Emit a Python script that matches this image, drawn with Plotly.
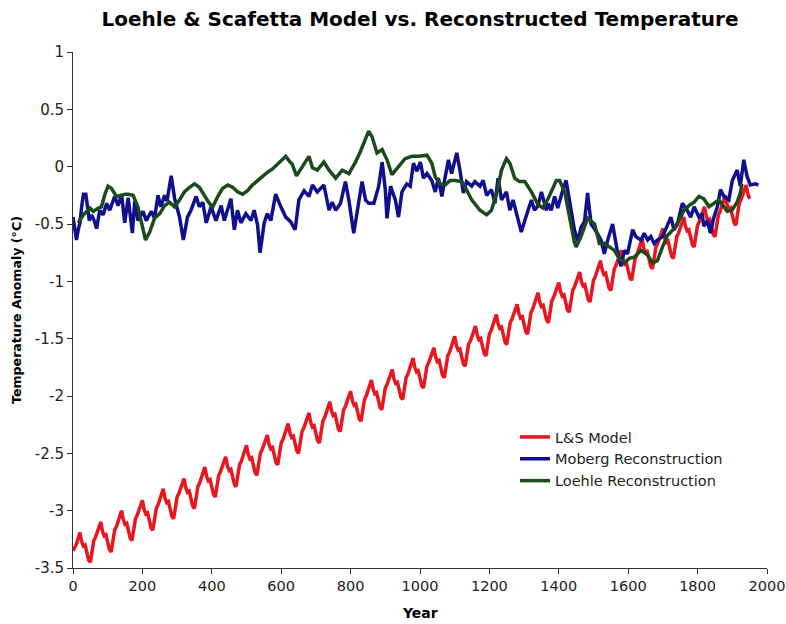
import plotly.graph_objects as go

# ---------------- data ----------------
model_years = list(range(0, 1951, 5))
model_vals = [
    -3.35, -3.32, -3.29, -3.24,
    -3.19, -3.27, -3.31, -3.30, -3.36, -3.43, -3.45, -3.36, -3.26, -3.23, -3.19, -3.14,
    -3.10, -3.18, -3.22, -3.21, -3.27, -3.34, -3.36, -3.27, -3.17, -3.14, -3.10, -3.05,
    -3.00, -3.08, -3.12, -3.11, -3.17, -3.24, -3.26, -3.17, -3.07, -3.04, -3.00, -2.95,
    -2.91, -2.99, -3.03, -3.02, -3.08, -3.15, -3.17, -3.08, -2.98, -2.95, -2.91, -2.86,
    -2.81, -2.89, -2.93, -2.92, -2.98, -3.05, -3.07, -2.98, -2.88, -2.85, -2.81, -2.76,
    -2.72, -2.80, -2.84, -2.83, -2.89, -2.96, -2.98, -2.89, -2.79, -2.76, -2.72, -2.67,
    -2.62, -2.70, -2.74, -2.73, -2.79, -2.86, -2.88, -2.79, -2.69, -2.66, -2.62, -2.57,
    -2.53, -2.61, -2.65, -2.64, -2.70, -2.77, -2.79, -2.70, -2.60, -2.57, -2.53, -2.48,
    -2.43, -2.51, -2.55, -2.54, -2.60, -2.67, -2.69, -2.60, -2.50, -2.47, -2.43, -2.38,
    -2.34, -2.42, -2.46, -2.45, -2.51, -2.58, -2.60, -2.51, -2.41, -2.38, -2.34, -2.29,
    -2.24, -2.32, -2.36, -2.35, -2.41, -2.48, -2.50, -2.41, -2.31, -2.28, -2.24, -2.19,
    -2.15, -2.23, -2.27, -2.26, -2.32, -2.39, -2.41, -2.32, -2.22, -2.19, -2.15, -2.10,
    -2.05, -2.13, -2.17, -2.16, -2.22, -2.29, -2.31, -2.22, -2.12, -2.09, -2.05, -2.00,
    -1.96, -2.04, -2.08, -2.07, -2.13, -2.20, -2.22, -2.13, -2.03, -2.00, -1.96, -1.91,
    -1.86, -1.94, -1.98, -1.97, -2.03, -2.10, -2.12, -2.03, -1.93, -1.90, -1.86, -1.81,
    -1.77, -1.85, -1.89, -1.88, -1.94, -2.01, -2.03, -1.94, -1.84, -1.81, -1.77, -1.72,
    -1.67, -1.75, -1.79, -1.78, -1.84, -1.91, -1.93, -1.84, -1.74, -1.71, -1.67, -1.62,
    -1.58, -1.66, -1.70, -1.69, -1.75, -1.82, -1.84, -1.75, -1.65, -1.62, -1.58, -1.53,
    -1.48, -1.56, -1.60, -1.59, -1.65, -1.72, -1.74, -1.65, -1.55, -1.52, -1.48, -1.43,
    -1.39, -1.47, -1.51, -1.50, -1.56, -1.63, -1.65, -1.56, -1.46, -1.43, -1.39, -1.34,
    -1.29, -1.37, -1.41, -1.40, -1.46, -1.53, -1.55, -1.46, -1.36, -1.33, -1.29, -1.24,
    -1.20, -1.28, -1.32, -1.31, -1.37, -1.44, -1.46, -1.37, -1.27, -1.24, -1.20, -1.15,
    -1.10, -1.18, -1.22, -1.21, -1.27, -1.34, -1.36, -1.27, -1.17, -1.14, -1.10, -1.05,
    -1.01, -1.09, -1.13, -1.12, -1.18, -1.25, -1.27, -1.18, -1.08, -1.05, -1.01, -0.96,
    -0.92, -1.00, -1.04, -1.03, -1.09, -1.16, -1.18, -1.09, -0.99, -0.96, -0.92, -0.87,
    -0.82, -0.90, -0.94, -0.93, -0.99, -1.06, -1.08, -0.99, -0.89, -0.86, -0.82, -0.77,
    -0.73, -0.81, -0.85, -0.84, -0.90, -0.97, -0.99, -0.90, -0.80, -0.77, -0.73, -0.68,
    -0.63, -0.71, -0.75, -0.74, -0.80, -0.87, -0.89, -0.80, -0.70, -0.67, -0.63, -0.58,
    -0.54, -0.62, -0.66, -0.65, -0.71, -0.78, -0.80, -0.71, -0.61, -0.58, -0.54, -0.49,
    -0.44, -0.52, -0.56, -0.55, -0.61, -0.68, -0.70, -0.61, -0.51, -0.48, -0.44, -0.39,
    -0.35, -0.43, -0.47, -0.46, -0.52, -0.59, -0.61, -0.52, -0.42, -0.39, -0.35, -0.30,
    -0.25, -0.33, -0.37, -0.36, -0.42, -0.49, -0.51, -0.42, -0.32, -0.29, -0.25, -0.20,
    -0.16, -0.24, -0.28,
]

moberg_years = [
    0, 5, 10, 15, 20, 25, 30, 37, 47, 54, 61, 68, 77, 87, 97, 106, 120, 130, 140, 149,
    159, 171, 178, 187, 202, 211, 226, 235, 245, 253, 264, 271, 283, 293, 307, 318, 330, 340, 355, 364,
    374, 384, 398, 412, 427, 436, 455, 465, 474, 484, 498, 513, 522, 532, 539, 551, 560, 570, 584, 599,
    613, 627, 640, 651, 666, 680, 690, 704, 723, 738, 747, 757, 771, 785, 795, 809, 819, 833, 843, 852,
    867, 881, 891, 900, 905, 915, 929, 938, 948, 962, 972, 981, 991, 1001, 1010, 1020, 1034, 1044, 1053, 1063,
    1072, 1082, 1091, 1106, 1115, 1125, 1134, 1149, 1158, 1173, 1182, 1192, 1206, 1216, 1225, 1235, 1249, 1259, 1268, 1278,
    1292, 1302, 1311, 1321, 1330, 1340, 1350, 1364, 1369, 1378, 1388, 1397, 1412, 1421, 1431, 1445, 1455, 1464, 1474, 1483,
    1493, 1507, 1522, 1531, 1541, 1555, 1570, 1579, 1589, 1598, 1613, 1622, 1637, 1646, 1656, 1665, 1675, 1684, 1699, 1713,
    1723, 1732, 1742, 1756, 1770, 1780, 1790, 1804, 1813, 1818, 1828, 1837, 1847, 1857, 1866, 1876, 1890, 1900, 1914, 1923,
    1933, 1943, 1952, 1967, 1975,
]
moberg_vals = [
    -0.44, -0.56, -0.64, -0.55, -0.49, -0.35, -0.24, -0.24, -0.47, -0.42, -0.47, -0.54, -0.38, -0.42, -0.32, -0.38, -0.26, -0.34, -0.24, -0.49,
    -0.27, -0.58, -0.30, -0.47, -0.39, -0.47, -0.39, -0.45, -0.25, -0.35, -0.25, -0.30, -0.08, -0.28, -0.44, -0.64, -0.44, -0.38, -0.26, -0.35,
    -0.31, -0.49, -0.35, -0.47, -0.34, -0.47, -0.28, -0.55, -0.38, -0.49, -0.41, -0.47, -0.38, -0.51, -0.75, -0.49, -0.41, -0.47, -0.24, -0.35,
    -0.44, -0.48, -0.55, -0.29, -0.21, -0.26, -0.16, -0.22, -0.16, -0.38, -0.31, -0.38, -0.32, -0.13, -0.29, -0.58, -0.38, -0.13, -0.29, -0.32,
    -0.32, -0.17, 0.04, -0.20, -0.45, -0.17, -0.29, -0.44, -0.22, -0.15, -0.17, 0.03, -0.04, 0.04, -0.10, -0.06, -0.12, -0.22, -0.10, -0.26,
    -0.10, 0.06, -0.06, 0.12, -0.03, -0.23, -0.13, -0.17, -0.13, -0.17, -0.12, -0.25, -0.20, -0.32, -0.10, -0.29, -0.22, -0.38, -0.29, -0.41,
    -0.57, -0.47, -0.38, -0.29, -0.38, -0.34, -0.22, -0.38, -0.32, -0.38, -0.26, -0.36, -0.20, -0.12, -0.30, -0.55, -0.65, -0.53, -0.48, -0.23,
    -0.50, -0.56, -0.64, -0.76, -0.64, -0.50, -0.76, -0.87, -0.73, -0.76, -0.55, -0.61, -0.64, -0.58, -0.64, -0.61, -0.67, -0.64, -0.61, -0.50,
    -0.44, -0.55, -0.50, -0.32, -0.38, -0.44, -0.35, -0.44, -0.41, -0.52, -0.47, -0.58, -0.44, -0.35, -0.20, -0.26, -0.29, -0.12, -0.03, -0.17,
    0.06, -0.09, -0.16, -0.15, -0.16,
]

loehle_years = [
    15, 30, 49, 58, 73, 82, 92, 101, 111, 125, 140, 149, 159, 173, 187, 197, 209, 221, 235, 250,
    264, 278, 293, 307, 321, 336, 350, 364, 379, 393, 403, 417, 431, 446, 460, 474, 489, 503, 517, 532,
    546, 560, 575, 589, 604, 613, 623, 632, 644, 656, 666, 680, 690, 704, 723, 738, 757, 776, 795, 814,
    828, 843, 852, 862, 876, 891, 905, 919, 938, 957, 977, 996, 1020, 1034, 1044, 1058, 1072, 1087, 1101, 1120,
    1134, 1149, 1173, 1192, 1206, 1221, 1235, 1249, 1259, 1273, 1287, 1302, 1321, 1340, 1354, 1369, 1393, 1402, 1417, 1431,
    1445, 1450, 1464, 1483, 1503, 1517, 1531, 1546, 1560, 1574, 1589, 1603, 1617, 1637, 1656, 1670, 1684, 1699, 1713, 1732,
    1746, 1761, 1775, 1790, 1804, 1818, 1833, 1847, 1861, 1876, 1885, 1899, 1914, 1923, 1928,
]
loehle_vals = [
    -0.49, -0.42, -0.36, -0.39, -0.36, -0.35, -0.24, -0.17, -0.19, -0.26, -0.25, -0.24, -0.24, -0.25, -0.35, -0.49, -0.64, -0.57, -0.45, -0.41,
    -0.34, -0.31, -0.35, -0.29, -0.22, -0.18, -0.15, -0.18, -0.25, -0.32, -0.35, -0.26, -0.19, -0.16, -0.18, -0.22, -0.24, -0.21, -0.16, -0.12,
    -0.08, -0.05, -0.02, 0.02, 0.07, 0.09, 0.05, 0.02, -0.08, -0.02, 0.03, 0.09, -0.01, -0.03, 0.04, -0.03, -0.10, -0.03, -0.06, 0.04,
    0.13, 0.25, 0.31, 0.26, 0.12, 0.15, 0.06, -0.07, 0.00, 0.07, 0.09, 0.09, 0.10, 0.03, -0.09, -0.15, -0.16, -0.12, -0.12, -0.13,
    -0.20, -0.29, -0.38, -0.42, -0.38, -0.23, -0.03, 0.07, 0.03, -0.10, -0.13, -0.13, -0.22, -0.33, -0.36, -0.28, -0.12, -0.12, -0.22, -0.45,
    -0.66, -0.70, -0.61, -0.45, -0.50, -0.67, -0.67, -0.70, -0.73, -0.80, -0.84, -0.80, -0.79, -0.73, -0.77, -0.84, -0.82, -0.70, -0.60, -0.54,
    -0.47, -0.38, -0.34, -0.31, -0.26, -0.28, -0.35, -0.32, -0.29, -0.35, -0.39, -0.38, -0.31, -0.23, -0.15,
]

names = ["L&S Model", "Moberg Reconstruction", "Loehle Reconstruction"]
colors = ["#e8161e", "#10108f", "#1b4a1b"]

x_ticks = [0, 200, 400, 600, 800, 1000, 1200, 1400, 1600, 1800, 2000]
y_ticks = [1, 0.5, 0, -0.5, -1, -1.5, -2, -2.5, -3, -3.5]

title_text = "Loehle & Scafetta Model vs. Reconstructed Temperature"
x_title = "Year"
y_title = "Temperature Anomaly (°C)"

# ---------------- figure ----------------
FONT = "DejaVu Sans, Verdana, sans-serif"
L, R, T, B = 73, 19, 52, 56
PW = 786 - L - R
PH = 624 - T - B
fig = go.Figure()
for xs, ys, nm, c in [
    (model_years, model_vals, names[0], colors[0]),
    (moberg_years, moberg_vals, names[1], colors[1]),
    (loehle_years, loehle_vals, names[2], colors[2]),
]:
    fig.add_trace(go.Scatter(x=xs, y=ys, mode="lines", name=nm,
                             line=dict(color=c, width=3.5)))

fig.update_layout(
    width=786, height=624,
    paper_bgcolor="white", plot_bgcolor="white",
    margin=dict(l=L, r=R, t=T, b=B, autoexpand=False),
    font=dict(family=FONT, size=15, color="#222222"),
    title=dict(text="<b>" + title_text + "</b>",
               x=(L + 786 - R) / 2 / 786, xanchor="center", y=1 - 19 / 624, yanchor="middle",
               font=dict(family=FONT, size=20, color="#000000")),
    showlegend=True,
    legend=dict(x=(515 - L) / PW, y=(624 - B - 421) / PH, xanchor="left", yanchor="top",
                bgcolor="rgba(0,0,0,0)", font=dict(family=FONT, size=14.5, color="#222222"),
                tracegroupgap=0),
    annotations=[
        dict(text="<b>" + x_title + "</b>", xref="paper", yref="paper", x=0.5, y=-(613 - 568) / PH,
             xanchor="center", yanchor="middle", showarrow=False,
             font=dict(family=FONT, size=14, color="#000000")),
        dict(text="<b>" + y_title + "</b>", xref="paper", yref="paper", x=-(L - 16) / PW, y=0.5,
             xanchor="center", yanchor="middle", showarrow=False, textangle=-90,
             font=dict(family=FONT, size=12.6, color="#000000")),
    ],
)
fig.update_xaxes(range=[0, 2000], tickvals=x_ticks, ticktext=[str(v) for v in x_ticks],
                 showgrid=False, zeroline=False, showline=True, linecolor="#333333", linewidth=1,
                 ticks="outside", ticklen=5, tickcolor="#333333", automargin=False,
                 tickfont=dict(size=14.5), ticklabeloverflow="allow")
fig.update_yaxes(range=[-3.5, 1], tickvals=y_ticks, ticktext=[f"{v:g}" for v in y_ticks],
                 showgrid=False, zeroline=False, showline=True, linecolor="#333333", linewidth=1,
                 ticks="outside", ticklen=5, tickcolor="#333333", automargin=False,
                 ticklabeloverflow="allow")

fig.write_html("out.html", config={"displayModeBar": False},
               post_script="document.body.style.margin='0';document.body.style.overflow='hidden';")
